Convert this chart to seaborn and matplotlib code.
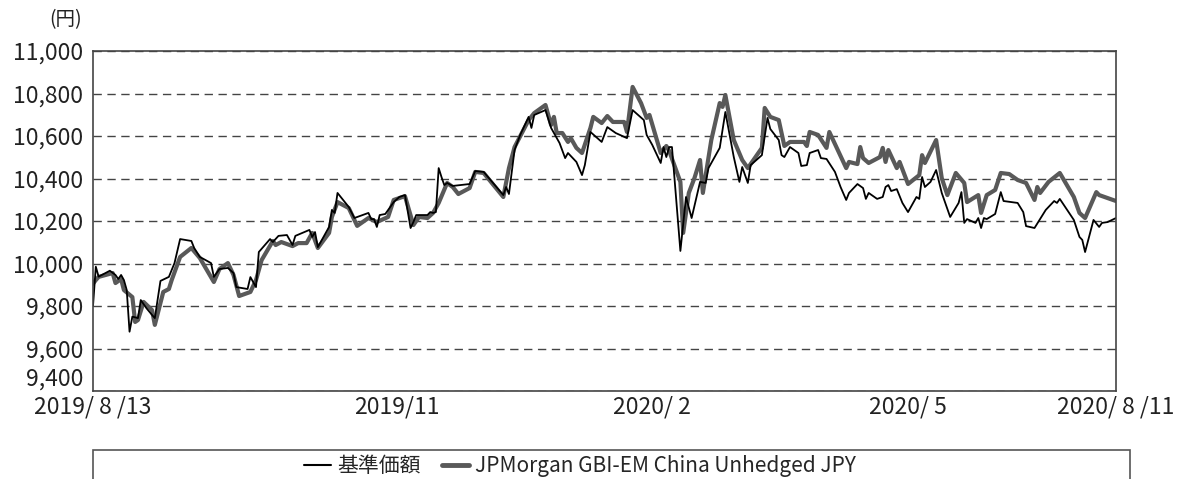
import pandas as pd
import matplotlib
matplotlib.use("Agg")
import matplotlib.pyplot as plt
import seaborn as sns
from matplotlib.lines import Line2D
from matplotlib.patches import Rectangle

# 基準価額
nav_dates = [
    "2019-08-13", "2019-08-14", "2019-08-15", "2019-08-19", "2019-08-21", "2019-08-22",
    "2019-08-23", "2019-08-24", "2019-08-25", "2019-08-26", "2019-08-27", "2019-08-29",
    "2019-08-30", "2019-09-01", "2019-09-03", "2019-09-04", "2019-09-06", "2019-09-09",
    "2019-09-11", "2019-09-13", "2019-09-17", "2019-09-18", "2019-09-20", "2019-09-24",
    "2019-09-25", "2019-09-27", "2019-09-30", "2019-10-02", "2019-10-03", "2019-10-07",
    "2019-10-08", "2019-10-10", "2019-10-11", "2019-10-15", "2019-10-16", "2019-10-18",
    "2019-10-21", "2019-10-23", "2019-10-24", "2019-10-29", "2019-10-30", "2019-10-31",
    "2019-11-01", "2019-11-05", "2019-11-06", "2019-11-07", "2019-11-08", "2019-11-12",
    "2019-11-14", "2019-11-19", "2019-11-20", "2019-11-21", "2019-11-22", "2019-11-23",
    "2019-11-25", "2019-11-28", "2019-11-30", "2019-12-02", "2019-12-04", "2019-12-05",
    "2019-12-06", "2019-12-10", "2019-12-11", "2019-12-12", "2019-12-13", "2019-12-14",
    "2019-12-15", "2019-12-16", "2019-12-17", "2019-12-19", "2019-12-25", "2019-12-27",
    "2019-12-30", "2020-01-06", "2020-01-07", "2020-01-08", "2020-01-10", "2020-01-12",
    "2020-01-15", "2020-01-16", "2020-01-17", "2020-01-21", "2020-01-23", "2020-01-26",
    "2020-01-28", "2020-01-29", "2020-02-01", "2020-02-03", "2020-02-04", "2020-02-06",
    "2020-02-10", "2020-02-12", "2020-02-15", "2020-02-19", "2020-02-21", "2020-02-25",
    "2020-02-26", "2020-02-28", "2020-03-02", "2020-03-03", "2020-03-04", "2020-03-05",
    "2020-03-06", "2020-03-09", "2020-03-11", "2020-03-13", "2020-03-16", "2020-03-18",
    "2020-03-19", "2020-03-23", "2020-03-25", "2020-03-28", "2020-03-30", "2020-03-31",
    "2020-04-02", "2020-04-03", "2020-04-07", "2020-04-09", "2020-04-10", "2020-04-13",
    "2020-04-14", "2020-04-15", "2020-04-17", "2020-04-20", "2020-04-21", "2020-04-23",
    "2020-04-24", "2020-04-27", "2020-04-28", "2020-04-30", "2020-05-03", "2020-05-05",
    "2020-05-07", "2020-05-08", "2020-05-11", "2020-05-13", "2020-05-14", "2020-05-15",
    "2020-05-18", "2020-05-20", "2020-05-21", "2020-05-22", "2020-05-23", "2020-05-25",
    "2020-05-27", "2020-05-29", "2020-06-01", "2020-06-02", "2020-06-03", "2020-06-04",
    "2020-06-06", "2020-06-08", "2020-06-10", "2020-06-13", "2020-06-16", "2020-06-17",
    "2020-06-18", "2020-06-19", "2020-06-22", "2020-06-23", "2020-06-24", "2020-06-25",
    "2020-06-26", "2020-06-29", "2020-07-01", "2020-07-02", "2020-07-07", "2020-07-09",
    "2020-07-10", "2020-07-13", "2020-07-17", "2020-07-20", "2020-07-21", "2020-07-22",
    "2020-07-27", "2020-07-29", "2020-07-30", "2020-07-31", "2020-08-03", "2020-08-05",
    "2020-08-06", "2020-08-08", "2020-08-11",
]
nav_values = [
    9800, 9985, 9938, 9966, 9946, 9927,
    9946, 9922, 9875, 9679, 9750, 9743,
    9828, 9790, 9758, 9743, 9918, 9937,
    10002, 10115, 10106, 10073, 10031, 10002,
    9937, 9974, 9979, 9955, 9889, 9880,
    9936, 9889, 10054, 10115, 10101, 10130,
    10134, 10087, 10130, 10158, 10125, 10148,
    10077, 10172, 10252, 10238, 10332, 10266,
    10214, 10238, 10209, 10209, 10172, 10228,
    10233, 10289, 10313, 10322, 10167, 10195,
    10228, 10228, 10242, 10238, 10242, 10449,
    10407, 10369, 10379, 10365, 10374, 10435,
    10431, 10322, 10360, 10327, 10534, 10605,
    10690, 10638, 10699, 10722, 10638, 10567,
    10496, 10520, 10478, 10416, 10463, 10619,
    10572, 10642, 10614, 10590, 10722, 10675,
    10605, 10558, 10473, 10548, 10501, 10548,
    10548, 10059, 10313, 10214, 10384, 10379,
    10449, 10544, 10713, 10501, 10384, 10454,
    10379, 10463, 10510, 10685, 10633, 10581,
    10510, 10501, 10548, 10520, 10459, 10463,
    10520, 10534, 10496, 10492, 10431, 10360,
    10299, 10332, 10374, 10355, 10304, 10332,
    10304, 10313, 10360, 10369, 10341, 10350,
    10285, 10242, 10313, 10304, 10407, 10360,
    10384, 10440, 10332, 10219, 10285, 10336,
    10191, 10209, 10191, 10214, 10167, 10214,
    10209, 10233, 10336, 10294, 10285, 10242,
    10176, 10167, 10252, 10294, 10285, 10304,
    10205, 10125, 10111, 10054, 10205, 10172,
    10191, 10195, 10214,
]

# JPMorgan GBI-EM China Unhedged JPY
idx_dates = [
    "2019-08-13", "2019-08-14", "2019-08-15", "2019-08-20", "2019-08-21", "2019-08-23",
    "2019-08-24", "2019-08-27", "2019-08-28", "2019-08-29", "2019-08-31", "2019-09-03",
    "2019-09-04", "2019-09-07", "2019-09-09", "2019-09-10", "2019-09-13", "2019-09-17",
    "2019-09-20", "2019-09-25", "2019-09-27", "2019-09-30", "2019-10-02", "2019-10-04",
    "2019-10-08", "2019-10-10", "2019-10-12", "2019-10-16", "2019-10-17", "2019-10-19",
    "2019-10-23", "2019-10-25", "2019-10-28", "2019-10-30", "2019-11-01", "2019-11-05",
    "2019-11-06", "2019-11-08", "2019-11-12", "2019-11-15", "2019-11-19", "2019-11-22",
    "2019-11-26", "2019-11-28", "2019-12-02", "2019-12-05", "2019-12-07", "2019-12-10",
    "2019-12-12", "2019-12-14", "2019-12-17", "2019-12-19", "2019-12-21", "2019-12-25",
    "2019-12-27", "2019-12-30", "2020-01-06", "2020-01-08", "2020-01-10", "2020-01-15",
    "2020-01-17", "2020-01-21", "2020-01-23", "2020-01-24", "2020-01-25", "2020-01-27",
    "2020-01-29", "2020-01-30", "2020-02-01", "2020-02-03", "2020-02-06", "2020-02-07",
    "2020-02-10", "2020-02-12", "2020-02-14", "2020-02-18", "2020-02-19", "2020-02-21",
    "2020-02-24", "2020-02-26", "2020-02-27", "2020-03-02", "2020-03-04", "2020-03-05",
    "2020-03-09", "2020-03-10", "2020-03-12", "2020-03-14", "2020-03-16", "2020-03-17",
    "2020-03-20", "2020-03-23", "2020-03-24", "2020-03-25", "2020-03-28", "2020-03-31",
    "2020-04-02", "2020-04-04", "2020-04-07", "2020-04-08", "2020-04-10", "2020-04-13",
    "2020-04-15", "2020-04-17", "2020-04-22", "2020-04-23", "2020-04-24", "2020-04-27",
    "2020-04-30", "2020-05-01", "2020-05-04", "2020-05-07", "2020-05-08", "2020-05-11",
    "2020-05-12", "2020-05-13", "2020-05-15", "2020-05-19", "2020-05-20", "2020-05-21",
    "2020-05-22", "2020-05-25", "2020-05-26", "2020-05-29", "2020-06-02", "2020-06-03",
    "2020-06-04", "2020-06-08", "2020-06-10", "2020-06-12", "2020-06-15", "2020-06-18",
    "2020-06-19", "2020-06-23", "2020-06-24", "2020-06-26", "2020-06-29", "2020-07-01",
    "2020-07-04", "2020-07-07", "2020-07-10", "2020-07-13", "2020-07-14", "2020-07-15",
    "2020-07-18", "2020-07-21", "2020-07-22", "2020-07-27", "2020-07-29", "2020-07-31",
    "2020-08-04", "2020-08-05", "2020-08-11",
]
idx_values = [
    9905, 9922, 9937, 9955, 9908, 9927,
    9875, 9842, 9725, 9734, 9819, 9781,
    9711, 9866, 9880, 9922, 10031, 10073,
    10026, 9913, 9974, 10002, 9946, 9847,
    9866, 9922, 10016, 10106, 10087, 10101,
    10082, 10096, 10096, 10144, 10073, 10144,
    10219, 10289, 10261, 10177, 10214, 10195,
    10219, 10299, 10317, 10181, 10219, 10214,
    10238, 10285, 10379, 10360, 10327, 10355,
    10431, 10426, 10313, 10449, 10548, 10675,
    10708, 10746, 10652, 10690, 10614, 10614,
    10572, 10590, 10544, 10520, 10638, 10690,
    10661, 10694, 10666, 10666, 10619, 10831,
    10755, 10685, 10699, 10520, 10553, 10530,
    10384, 10144, 10332, 10402, 10487, 10332,
    10581, 10755, 10737, 10793, 10581, 10487,
    10449, 10487, 10544, 10732, 10690, 10675,
    10553, 10572, 10572, 10553, 10619, 10605,
    10544, 10619, 10534, 10449, 10478, 10468,
    10548, 10496, 10473, 10501, 10544, 10478,
    10534, 10449, 10478, 10374, 10416, 10510,
    10473, 10581, 10402, 10322, 10426, 10379,
    10289, 10322, 10238, 10322, 10346, 10426,
    10421, 10393, 10379, 10299, 10360, 10332,
    10384, 10416, 10426, 10313, 10238, 10214,
    10336, 10322, 10294,
]

x_start, x_end = "2019-08-13", "2020-08-11"
tick_dates = ["2019-08-13", "2019-11-29", "2020-02-28", "2020-05-29", "2020-08-11"]
tick_labels = ["2019/ 8 /13", "2019/11", "2020/ 2", "2020/ 5", "2020/ 8 /11"]
y_ticks = [9400, 9600, 9800, 10000, 10200, 10400, 10600, 10800, 11000]

nav_label = "基準価額"
idx_label = "JPMorgan GBI-EM China Unhedged JPY"
nav_color = "#000000"
idx_color = "#595959"

sns.set_style("white")
plt.rcParams["font.family"] = ["Noto Sans CJK JP", "DejaVu Sans"]

nav_df = pd.DataFrame({"date": pd.to_datetime(nav_dates), "value": nav_values})
idx_df = pd.DataFrame({"date": pd.to_datetime(idx_dates), "value": idx_values})

W, H = 1179, 479
fig = plt.figure(figsize=(W / 100, H / 100), dpi=100)
ax = fig.add_axes([93 / W, 88 / H, 1023 / W, 340 / H])

sns.lineplot(data=idx_df, x="date", y="value", ax=ax, color=idx_color, lw=3.0)
sns.lineplot(data=nav_df, x="date", y="value", ax=ax, color=nav_color, lw=1.3)

ax.set_xlim(pd.Timestamp(x_start), pd.Timestamp(x_end))
ax.set_ylim(y_ticks[0], y_ticks[-1])
ax.set_yticks(y_ticks)
ax.set_yticklabels([f"{v:,}" for v in y_ticks], fontsize=16.5, color="#222222")
ax.get_yticklabels()[0].set_va("bottom")
ax.set_xticks(pd.to_datetime(tick_dates))
ax.set_xticklabels(tick_labels, fontsize=16.5, color="#222222")
ax.set_xlabel("")
ax.set_ylabel("")
ax.tick_params(axis="y", length=0, pad=7)
ax.tick_params(axis="x", direction="in", length=7, width=1, color="#444444", pad=3)
ax.yaxis.grid(True, linestyle=(0, (6, 4)), color="#444444", lw=1)
for s in ax.spines.values():
    s.set_color("#444444")
    s.set_linewidth(1.2)

fig.text(66 / W, 1 - 20 / H, "(円)", fontsize=14, ha="center", va="center", color="#222222")

# legend box (extends below the image edge)
box = Rectangle((93 / W, -0.06), (1130 - 93) / W, 0.06 + 29 / H,
                transform=fig.transFigure, fill=False, ec="#555555", lw=1.2)
fig.add_artist(box)
handles = [Line2D([], [], color=nav_color, lw=1.5),
           Line2D([], [], color=idx_color, lw=3.5)]
fig.legend(handles, [nav_label, idx_label], loc="center", ncol=2,
           bbox_to_anchor=(580 / W, 13 / H), frameon=False, fontsize=15,
           handlelength=1.3, handletextpad=0.3, columnspacing=1.0,
           borderpad=0, borderaxespad=0)

fig.savefig("out.png", dpi=100)
